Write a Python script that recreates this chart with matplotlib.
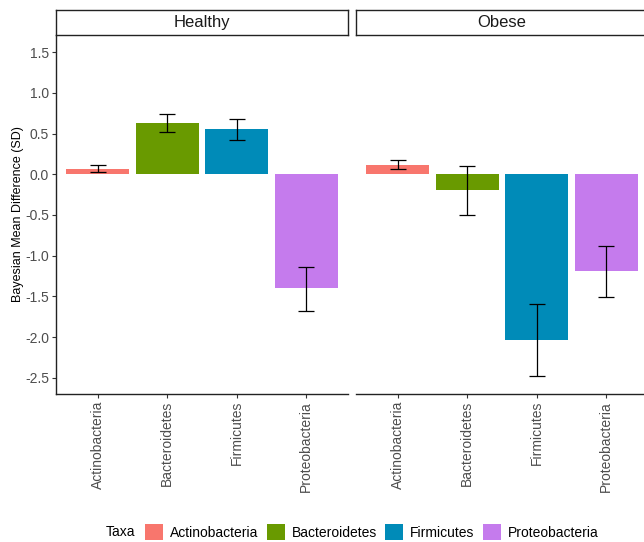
import matplotlib
matplotlib.use("Agg")
import matplotlib.pyplot as plt
from matplotlib.patches import Patch

plt.rcParams['font.family'] = ['Liberation Sans', 'DejaVu Sans']

groups = ["Healthy", "Obese"]
taxa = ["Actinobacteria", "Bacteroidetes", "Firmicutes", "Proteobacteria"]
colors = ["#F8766D", "#699A00", "#008BB8", "#C57BED"]

healthy_mean = [0.07, 0.635, 0.55, -1.40]
healthy_lo = [0.03, 0.52, 0.425, -1.68]
healthy_hi = [0.11, 0.745, 0.675, -1.137]

obese_mean = [0.115, -0.20, -2.04, -1.195]
obese_lo = [0.06, -0.502, -2.48, -1.507]
obese_hi = [0.17, 0.105, -1.60, -0.887]

means = [healthy_mean, obese_mean]
los = [healthy_lo, obese_lo]
his = [healthy_hi, obese_hi]

W, H = 644, 542
fig = plt.figure(figsize=(W / 100, H / 100), dpi=100)

def fx(px):
    return px / W

def fy(py):
    return 1 - py / H

panel_lefts = [56, 356]
panel_w = 292
top, bottom = 35, 394
ylim = (-2.70, 1.71)
grey = "#4D4D4D"

for gi, g in enumerate(groups):
    l = panel_lefts[gi]
    ax = fig.add_axes([fx(l), fy(bottom), fx(panel_w), (bottom - top) / H])
    x = list(range(len(taxa)))
    m = means[gi]
    ax.bar(x, m, width=0.9, color=colors, zorder=2)
    yerr = [[m[i] - los[gi][i] for i in x], [his[gi][i] - m[i] for i in x]]
    ax.errorbar(x, m, yerr=yerr, fmt='none', ecolor='black', elinewidth=0.9,
                capsize=5.5, capthick=0.9, zorder=3)
    ax.set_xlim(-0.6, len(taxa) - 0.4)
    ax.set_ylim(*ylim)
    ax.set_xticks(x)
    ax.set_xticklabels(taxa, rotation=90, color=grey, fontsize=10)
    ax.tick_params(axis='x', length=3, width=0.8, color='#333333', pad=2)
    for s in ['top', 'right']:
        ax.spines[s].set_visible(False)
    ax.spines['bottom'].set_linewidth(1.0)
    ax.spines['bottom'].set_color('#222222')
    if gi == 0:
        ax.set_yticks([1.5, 1.0, 0.5, 0.0, -0.5, -1.0, -1.5, -2.0, -2.5])
        ax.set_yticklabels(["1.5", "1.0", "0.5", "0.0", "-0.5", "-1.0", "-1.5", "-2.0", "-2.5"],
                           color=grey, fontsize=10)
        ax.tick_params(axis='y', length=3, width=0.8, color='#333333', pad=2)
        ax.spines['left'].set_linewidth(1.0)
        ax.spines['left'].set_color('#222222')
        ax.set_ylabel("Bayesian Mean Difference (SD)", fontsize=9, color='black', labelpad=1)
    else:
        ax.spines['left'].set_visible(False)
        ax.set_yticks([])
    # strip
    sax = fig.add_axes([fx(l), fy(top), fx(panel_w), (top - 10) / H])
    sax.set_xticks([])
    sax.set_yticks([])
    for s in sax.spines.values():
        s.set_linewidth(1.0)
        s.set_color('#222222')
    sax.text(0.5, 0.5, g, ha='center', va='center', fontsize=12, color='#1A1A1A',
             transform=sax.transAxes)

handles = [Patch(facecolor=c, edgecolor='none', label=t) for c, t in zip(colors, taxa)]
fig.text(fx(106), fy(532), "Taxa", ha='left', va='center', fontsize=10)
fig.legend(handles=handles, loc='center left', bbox_to_anchor=(fx(145), fy(532)),
           ncol=4, frameon=False, fontsize=10, handlelength=1.3, handleheight=1.3,
           handletextpad=0.5, columnspacing=0.6, borderpad=0, borderaxespad=0)

fig.savefig("out.png", dpi=100)
